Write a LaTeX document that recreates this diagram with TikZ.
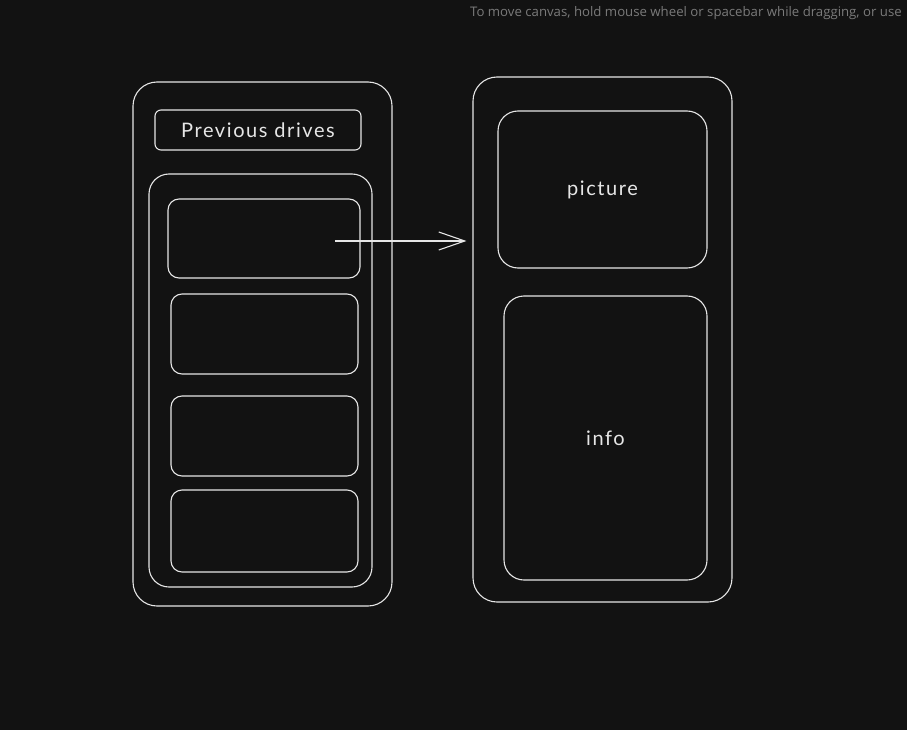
\documentclass[tikz,border=0pt]{standalone}
\usepackage{fontspec}
\setmainfont{Lato}[LetterSpace=8]
\newfontfamily\uifont{Open Sans}
\usetikzlibrary{arrows.meta}
\definecolor{bg}{HTML}{121212}
\definecolor{ink}{HTML}{E6E6E6}
\definecolor{hint}{HTML}{7A7A7A}
\tikzset{
  sketch/.style={draw=ink, line width=1.1pt, fill=none, inner sep=0pt, rectangle},
  bigbox/.style={sketch, rounded corners=24pt},
  midbox/.style={sketch, rounded corners=20pt},
  rowbox/.style={sketch, rounded corners=11pt},
  headbox/.style={sketch, rounded corners=6pt},
  lbl/.style={text=ink, font=\fontsize{20}{23}\selectfont, inner sep=0pt},
  conn/.style={draw=ink, line width=1.1pt, -{Straight Barb[length=26pt,width=18pt,line width=1.1pt]}}
}
\begin{document}
\begin{tikzpicture}[x=1pt,y=-1pt]
\fill[bg] (0,0) rectangle (907,730);
\useasboundingbox (0,0) rectangle (907,730);
\node[anchor=west, text=hint, font=\uifont\fontsize{13.2}{15}\selectfont, inner sep=0pt] (hinttext) at (470,13) {To move canvas, hold mouse wheel or spacebar while dragging, or use};
% left column
\node[bigbox, minimum width=259pt, minimum height=524pt] (lout) at (262.5,344) {};
\node[headbox, minimum width=206pt, minimum height=40pt] (head) at (258,130) {};
\node[lbl] (headlbl) at (head.center) {Previous drives};
\node[midbox, minimum width=223pt, minimum height=413pt] (lin) at (260.5,380.5) {};
\node[rowbox, minimum width=192pt, minimum height=79pt] (row1) at (264,238.5) {};
\node[rowbox, minimum width=187pt, minimum height=80pt] (row2) at (264.5,334) {};
\node[rowbox, minimum width=187pt, minimum height=80pt] (row3) at (264.5,436) {};
\node[rowbox, minimum width=187pt, minimum height=82pt] (row4) at (264.5,531) {};
% right column
\node[bigbox, minimum width=259pt, minimum height=525pt] (rout) at (602.5,339.5) {};
\node[midbox, minimum width=209pt, minimum height=157pt] (pic) at (602.5,189.5) {};
\node[lbl] (piclbl) at (pic.center) {picture};
\node[midbox, minimum width=203pt, minimum height=284pt] (info) at (605.5,438) {};
\node[lbl] (infolbl) at (info.center) {info};
% connector
\coordinate (astart) at (335,241);
\draw[conn, shorten >=6pt] (astart) -- (astart -| rout.west);
\end{tikzpicture}
\end{document}
